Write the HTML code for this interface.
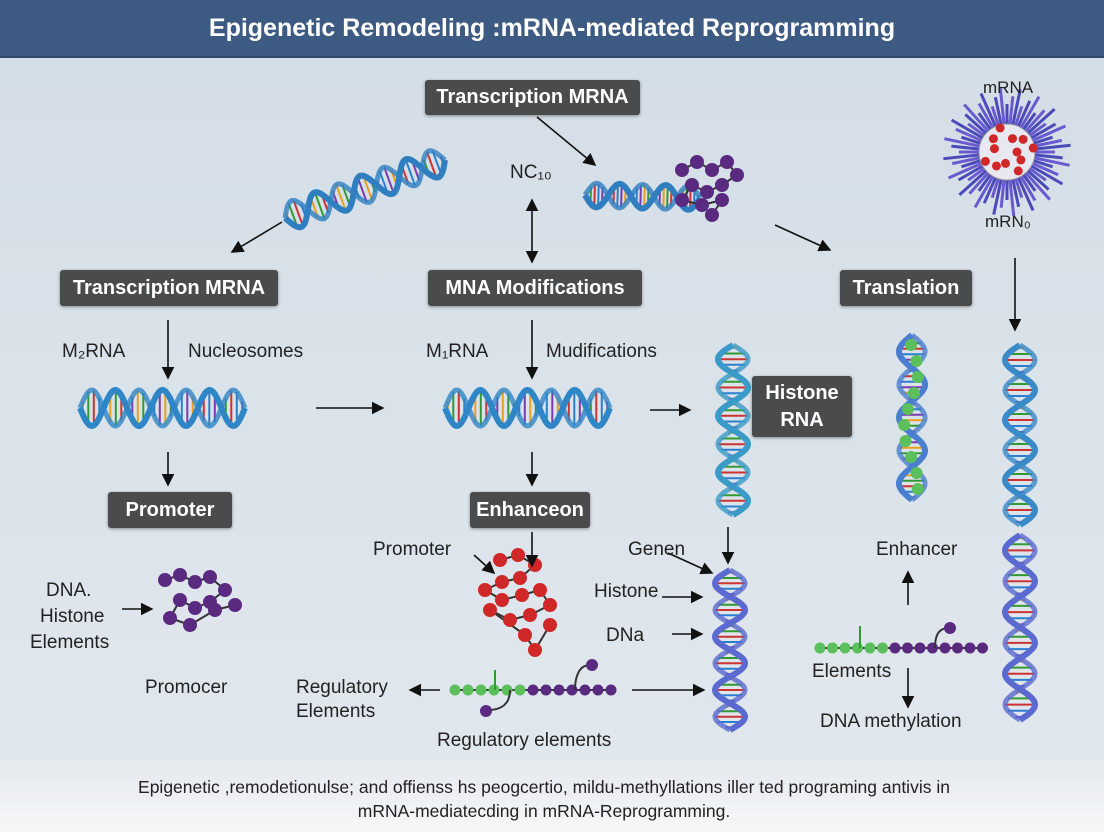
<!DOCTYPE html>
<html><head><meta charset="utf-8"><style>
html,body{margin:0;padding:0}
body{width:1104px;height:832px;position:relative;overflow:hidden;background:linear-gradient(#d3dde6,#e2e8ee);font-family:"Liberation Sans",sans-serif}
.hd{position:absolute;left:0;top:0;width:1104px;height:56px;background:#3d5a82;color:#fff;font-weight:bold;font-size:25px;text-align:center;line-height:56px;border-bottom:2px solid #2f4868}
.b{position:absolute;background:#4a4b4d;color:#fff;font-weight:bold;font-size:20px;border-radius:3px;text-align:center;box-shadow:0 1px 3px rgba(0,0,0,.4)}
.t{position:absolute;color:#222;font-size:19px;white-space:nowrap}
.ft{position:absolute;left:0;top:760px;width:1104px;height:72px;background:linear-gradient(#e4e9ee,#f6f7f8);text-align:center;font-size:17.5px;color:#222;line-height:24px;padding-top:15px;box-sizing:border-box;padding-right:16px}
svg{position:absolute;left:0;top:0}
</style></head><body>
<div class="hd">Epigenetic Remodeling :mRNA-mediated Reprogramming</div>
<svg id="s" width="1104" height="832"></svg>
<div class="b" style="left:425px;top:80px;width:215px;height:35px;line-height:35px">Transcription MRNA</div>
<div class="b" style="left:60px;top:270px;width:218px;height:36px;line-height:36px">Transcription MRNA</div>
<div class="b" style="left:428px;top:270px;width:214px;height:36px;line-height:36px">MNA Modifications</div>
<div class="b" style="left:840px;top:270px;width:132px;height:36px;line-height:36px">Translation</div>
<div class="b" style="left:752px;top:376px;width:100px;height:61px;line-height:27px;padding-top:4px;box-sizing:border-box">Histone<br>RNA</div>
<div class="b" style="left:108px;top:492px;width:124px;height:36px;line-height:36px">Promoter</div>
<div class="b" style="left:470px;top:492px;width:120px;height:36px;line-height:36px">Enhanceon</div>
<div class="t" style="left:983px;top:78px;font-size:17px">mRNA</div>
<div class="t" style="left:985px;top:212px;font-size:17px">mRN₀</div>
<div class="t" style="left:510px;top:162px">NC₁₀</div>
<div class="t" style="left:62px;top:341px">M₂RNA</div>
<div class="t" style="left:188px;top:341px">Nucleosomes</div>
<div class="t" style="left:426px;top:341px">M₁RNA</div>
<div class="t" style="left:546px;top:341px">Mudifications</div>
<div class="t" style="left:46px;top:580px">DNA.</div>
<div class="t" style="left:40px;top:606px">Histone</div>
<div class="t" style="left:30px;top:632px">Elements</div>
<div class="t" style="left:145px;top:677px">Promocer</div>
<div class="t" style="left:373px;top:539px">Promoter</div>
<div class="t" style="left:296px;top:677px">Regulatory</div>
<div class="t" style="left:296px;top:701px">Elements</div>
<div class="t" style="left:437px;top:730px">Regulatory elements</div>
<div class="t" style="left:628px;top:539px">Genen</div>
<div class="t" style="left:594px;top:581px">Histone</div>
<div class="t" style="left:606px;top:625px">DNa</div>
<div class="t" style="left:876px;top:539px">Enhancer</div>
<div class="t" style="left:812px;top:661px">Elements</div>
<div class="t" style="left:820px;top:711px">DNA methylation</div>
<div class="ft">Epigenetic ,remodetionulse; and offienss hs peogcertio, mildu-methyllations iller ted programing antivis in<br>mRNA-mediatecding in mRNA-Reprogramming.</div>
<script>
var s=document.getElementById('s'),h='';
h+='<defs><marker id="a" markerWidth="8" markerHeight="8" refX="7" refY="4" orient="auto"><path d="M0,0L8,4L0,8z" fill="#111"/></marker><marker id="a2" markerWidth="8" markerHeight="8" refX="1" refY="4" orient="auto"><path d="M8,0L0,4L8,8z" fill="#111"/></marker></defs>';
function ar(x1,y1,x2,y2,d){h+='<line x1="'+x1+'" y1="'+y1+'" x2="'+x2+'" y2="'+y2+'" stroke="#111" stroke-width="1.6" marker-end="url(#a)"'+(d?' marker-start="url(#a2)"':'')+'/>';}
var rc=['#c33','#393','#e8a020','#7a3ab0','#2a7fd0'];
function helix(x1,y1,x2,y2,turns,amp,col){
 var dx=x2-x1,dy=y2-y1,L=Math.hypot(dx,dy),ux=dx/L,uy=dy/L,nx=-uy,ny=ux,N=120,p1='',p2='',r='';
 for(var i=0;i<=N;i++){var t=i/N,ph=t*turns*2*Math.PI,a=Math.sin(ph)*amp,b=Math.sin(ph+Math.PI)*amp,
 cx=x1+dx*t,cy=y1+dy*t;p1+=(i?'L':'M')+(cx+nx*a).toFixed(1)+','+(cy+ny*a).toFixed(1);p2+=(i?'L':'M')+(cx+nx*b).toFixed(1)+','+(cy+ny*b).toFixed(1);
 if(i%4==2)r+='<line x1="'+(cx+nx*a).toFixed(1)+'" y1="'+(cy+ny*a).toFixed(1)+'" x2="'+(cx+nx*b).toFixed(1)+'" y2="'+(cy+ny*b).toFixed(1)+'" stroke="'+rc[i%5]+'" stroke-width="2"/>';}
 h+=r+'<path d="'+p1+'" fill="none" stroke="'+col+'" stroke-width="6"/><path d="'+p2+'" fill="none" stroke="'+col+'" stroke-width="5" opacity=".8"/>';}
function cluster(cx,cy,col,pts){var l='',c='';pts.forEach(function(p,i){if(i)l+='<line x1="'+(cx+pts[i-1][0])+'" y1="'+(cy+pts[i-1][1])+'" x2="'+(cx+p[0])+'" y2="'+(cy+p[1])+'" stroke="#333" stroke-width="2"/>';c+='<circle cx="'+(cx+p[0])+'" cy="'+(cy+p[1])+'" r="7" fill="'+col+'"/>';});h+=l+c;}
function beads(x,y,n,sp,cols){var c='<line x1="'+x+'" y1="'+y+'" x2="'+(x+sp*(n-1))+'" y2="'+y+'" stroke="#333" stroke-width="2"/>';for(var i=0;i<n;i++)c+='<circle cx="'+(x+i*sp)+'" cy="'+y+'" r="5.5" fill="'+cols(i)+'"/>';h+=c;}
helix(285,218,445,160,3.5,14,'#2f7fc0');
helix(585,195,700,198,2.5,12,'#2f7fc0');
helix(80,408,245,408,3.5,18,'#2f86c6');
helix(445,408,610,408,3.5,18,'#2f86c6');
helix(733,345,733,515,3,15,'#3a9ac8');
helix(912,335,912,500,2.5,13,'#4a7fd0');
helix(1020,345,1020,525,3,15,'#3a8ac8');
helix(1020,535,1020,720,3,15,'#5a6ad0');
helix(730,570,730,730,3,15,'#5a6ad0');
var pc=[[0,0],[15,-8],[30,0],[45,-8],[55,5],[40,15],[25,22],[10,15],[0,30],[20,35],[40,30],[30,45]];
cluster(682,170,'#5a2a80',pc);
cluster(165,580,'#5a2a80',[[0,0],[15,-5],[30,2],[45,-3],[60,10],[45,22],[30,28],[15,20],[5,38],[25,45],[50,30],[70,25]]);
cluster(480,560,'#d02828',[[20,0],[38,-5],[55,5],[40,18],[22,22],[5,30],[22,40],[42,35],[60,30],[70,45],[50,55],[30,60],[10,50],[45,75],[55,90],[70,65]]);
for(var i=0;i<10;i++)h+='<circle cx="'+(911+Math.sin(i*0.9)*7)+'" cy="'+(345+i*16)+'" r="6" fill="#5bbf5b"/>';
beads(455,690,13,13,function(i){return i<6?'#5bbf5b':'#5a2a80'});
h+='<path d="M495,690 v-20" stroke="#393" stroke-width="2"/><path d="M575,690 c0,-15 5,-25 15,-25" stroke="#333" fill="none" stroke-width="2"/><circle cx="592" cy="665" r="6" fill="#5a2a80"/><path d="M510,690 c0,15 -10,20 -22,20" stroke="#333" fill="none" stroke-width="2"/><circle cx="486" cy="711" r="6" fill="#5a2a80"/>';
beads(820,648,14,12.5,function(i){return i<6?'#5bbf5b':'#5a2a80'});
h+='<path d="M935,648 c0,-15 5,-20 14,-20" stroke="#333" fill="none" stroke-width="2"/><circle cx="950" cy="628" r="6" fill="#5a2a80"/><path d="M860,648 v-22" stroke="#393" stroke-width="2"/>';
var np='';for(i=0;i<60;i++){var a=i/60*6.283,r1=15,r2=48+(i%3)*8;np+='<line x1="'+(1007+Math.cos(a)*r1)+'" y1="'+(152+Math.sin(a)*r1)+'" x2="'+(1007+Math.cos(a)*r2)+'" y2="'+(152+Math.sin(a)*r2)+'" stroke="'+(i%2?'#4a4ab8':'#6a5ad0')+'" stroke-width="3"/>';}
h+=np+'<circle cx="1007" cy="152" r="28" fill="#e8e8f0" stroke="#999"/>';
for(i=0;i<12;i++){h+='<circle cx="'+(1007+Math.cos(i*1.7)*(10+i*1.5))+'" cy="'+(152+Math.sin(i*1.7)*(10+i*1.5))+'" r="4.5" fill="#d02828"/>';}
ar(537,117,595,165);ar(282,222,232,252);ar(532,200,532,262,1);ar(775,225,830,250);ar(1015,258,1015,330);
ar(168,320,168,378);ar(532,320,532,378);ar(316,408,383,408);ar(650,410,690,410);
ar(168,452,168,485);ar(532,452,532,485);ar(532,532,532,566);ar(728,527,728,563);
ar(474,555,494,573);ar(668,553,712,573);ar(122,609,152,609);ar(662,597,702,597);ar(672,634,702,634);
ar(908,605,908,572);ar(908,668,908,707);ar(440,690,410,690);ar(632,690,704,690);
s.innerHTML=h;
</script>
</body></html>
